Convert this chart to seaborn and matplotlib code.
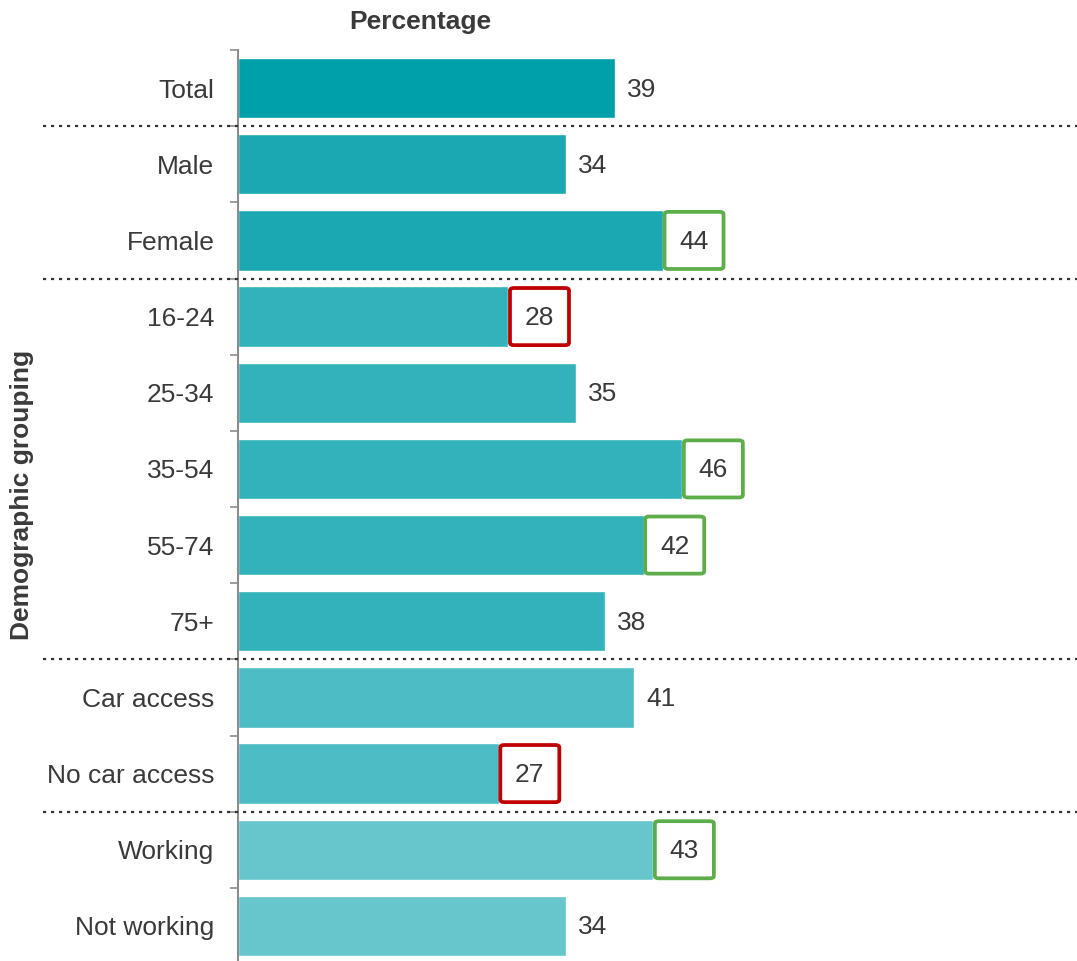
import matplotlib
matplotlib.use("Agg")
import matplotlib.pyplot as plt
import matplotlib.patches as mpatches
import seaborn as sns
import pandas as pd
import numpy as np

categories = ["Total", "Male", "Female", "16-24", "25-34", "35-54", "55-74", "75+",
              "Car access", "No car access", "Working", "Not working"]
values = [39, 34, 44, 28, 35, 46, 42, 38, 41, 27, 43, 34]
bar_colors = ["#00A0AA", "#1BA8B3", "#1BA8B3", "#33B2BC", "#33B2BC", "#33B2BC", "#33B2BC",
              "#33B2BC", "#4DBCC5", "#4DBCC5", "#67C6CB", "#67C6CB"]
# highlight: 'g' = significantly higher, 'r' = significantly lower, '' = none
highlight = ["", "", "g", "r", "", "g", "g", "", "", "r", "g", ""]
separators_after = [0, 2, 7, 9]  # dotted line after these category indices

sns.set_theme(style="white")
plt.rcParams["font.family"] = ["Liberation Sans", "DejaVu Sans"]

W, H = 1077, 961
fig = plt.figure(figsize=(W / 100, H / 100), dpi=100)
ax_left, ax_right, ax_top, ax_bot = 238, 1077, 50, 964
ax = fig.add_axes([ax_left / W, 1 - ax_bot / H, (ax_right - ax_left) / W, (ax_bot - ax_top) / H])

df = pd.DataFrame({"cat": categories, "val": values})
sns.barplot(data=df, y="cat", x="val", hue="cat", palette=bar_colors, orient="h",
            legend=False, width=0.79, ax=ax, saturation=1)

px_per_unit = 9.66
ax.set_xlim(0, (ax_right - ax_left) / px_per_unit)
ax.set_ylim(len(categories) - 0.5, -0.5)

text_color = "#3A3A3A"
for s in ["top", "right", "bottom"]:
    ax.spines[s].set_visible(False)
ax.spines["left"].set_color("#8C8C8C")
ax.spines["left"].set_linewidth(1.5)
ax.set_xticks([])
ax.set_xlabel("")
ax.set_ylabel("")
ax.set_yticks(range(len(categories)))
ax.set_yticklabels(categories, fontsize=19, color=text_color)
ax.tick_params(axis="y", which="major", length=0, pad=17)
ax.set_yticks(np.arange(-0.5, len(categories), 1.0), minor=True)
ax.tick_params(axis="y", which="minor", length=6, width=1.2, color="#8C8C8C", direction="out", left=True)

unit_w = 1.0 / px_per_unit
box_w = 62 * unit_w
for i, (v, h) in enumerate(zip(values, highlight)):
    if h:
        ec = "#5DAE4B" if h == "g" else "#C00000"
        rect = mpatches.FancyBboxPatch((v + 1.5 * unit_w, i - 0.375), box_w - 3 * unit_w, 0.75,
                                       boxstyle="round,pad=0,rounding_size=0.4",
                                       mutation_aspect=0.08,
                                       fill=False, edgecolor=ec, linewidth=2.7, zorder=3,
                                       clip_on=False)
        ax.add_patch(rect)
        ax.text(v + box_w / 2, i + 0.02, str(v), ha="center", va="center",
                fontsize=19, color=text_color, zorder=4)
    else:
        ax.text(v + 12 * unit_w, i + 0.02, str(v), ha="left", va="center",
                fontsize=19, color=text_color)

x0 = (43 - ax_left) / (ax_right - ax_left)
for k in separators_after:
    ax.axhline(k + 0.5, xmin=x0, xmax=1.0, color="#333333", linewidth=1.6,
               linestyle=(0, (1.4, 2.2)), clip_on=False, zorder=5)

fig.text(420 / W, 1 - 22 / H, "Percentage", ha="center", va="center",
         fontsize=19, fontweight="bold", color=text_color)
fig.text(22 / W, 1 - 495 / H, "Demographic grouping", ha="center", va="center",
         rotation=90, fontsize=19, fontweight="bold", color=text_color)

fig.savefig("out.png", dpi=100)
